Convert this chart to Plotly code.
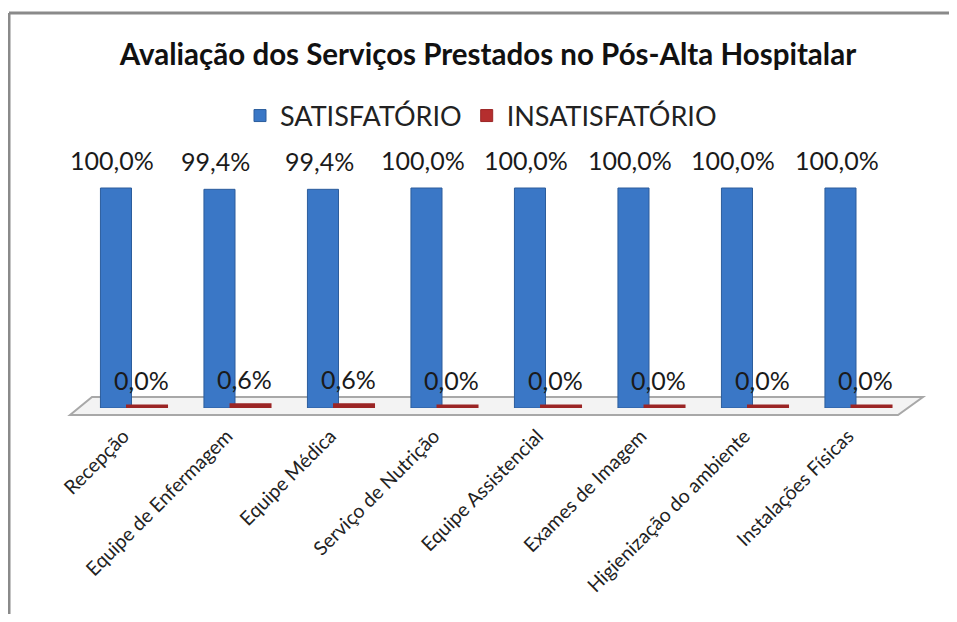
import plotly.graph_objects as go

categories = ["Recepção", "Equipe de Enfermagem", "Equipe Médica", "Serviço de Nutrição",
              "Equipe Assistencial", "Exames de Imagem", "Higienização do ambiente",
              "Instalações Físicas"]
satisfatorio = [100.0, 99.4, 99.4, 100.0, 100.0, 100.0, 100.0, 100.0]
insatisfatorio = [0.0, 0.6, 0.6, 0.0, 0.0, 0.0, 0.0, 0.0]
series_names = ["SATISFATÓRIO", "INSATISFATÓRIO"]

W, H = 949, 606
OFF = 8  # page body margin
FONT = "Lato"
BLUE = "#3a77c6"
RED = "#b52e2e"
PATCH = "#9b2525"

def px(x):
    return (x - OFF) / W

def py(y):
    return 1 - (y - OFF) / H

fig = go.Figure()
fig.add_trace(go.Bar(name=series_names[0], x=categories, y=satisfatorio,
                     marker=dict(color=BLUE, line=dict(color="#2c5d9c", width=1))))
fig.add_trace(go.Bar(name=series_names[1], x=categories, y=insatisfatorio,
                     marker=dict(color=RED, line=dict(color=PATCH, width=1))))
# flat "floor" patch of the second series, drawn on a shifted copy of the category axis
fig.add_trace(go.Scatter(x=categories, y=insatisfatorio, xaxis="x2", yaxis="y",
                         mode="markers", showlegend=False, hoverinfo="skip",
                         marker=dict(symbol="line-ew", size=30,
                                     line=dict(color=PATCH, width=7))))

def fmt(v):
    return f"{v:.1f}%".replace(".", ",")

SHIFT = 15.5
for vals, xs in ((satisfatorio, -SHIFT - 4), (insatisfatorio, SHIFT - 6)):
    for c, v in zip(categories, vals):
        fig.add_annotation(x=c, y=v, xref="x", yref="y", text=fmt(v), showarrow=False,
                           xshift=xs, yshift=28, yanchor="middle",
                           font=dict(family=FONT, size=25, color="#1a1a1a"))

# chart frame (left and top edges visible)
for x0, y0, x1, y1 in ((9, 13, 9, OFF + H), (9, 13, OFF + W, 13)):
    fig.add_shape(type="line", xref="paper", yref="paper", x0=px(x0), y0=py(y0),
                  x1=px(x1), y1=py(y1), line=dict(color="#8a8a8a", width=3), layer="below")
# 3D floor
pts = [(70, 415), (92, 397), (923, 397), (898, 415)]
path = "M " + " L ".join(f"{px(x):.5f},{py(y):.5f}" for x, y in pts) + " Z"
fig.add_shape(type="path", xref="paper", yref="paper", path=path,
              line=dict(color="#a8a8a8", width=2), fillcolor="#f3f3f3", layer="below")

x0p, x1p = 79.75, 907.75
y0p, y1p = 408, 177
fig.update_layout(
    width=W, height=H, margin=dict(l=0, r=0, t=0, b=0, autoexpand=False),
    paper_bgcolor="white", plot_bgcolor="rgba(0,0,0,0)",
    barmode="group", bargap=0.4, bargroupgap=0,
    title=dict(text="<b>Avaliação dos Serviços Prestados no Pós-Alta Hospitalar</b>",
               x=px(488), xanchor="center", y=py(55), yanchor="middle",
               font=dict(family=FONT, size=29.5, color="#111")),
    legend=dict(orientation="h", x=px(481), xanchor="center", y=py(116), yanchor="middle",
                font=dict(family=FONT, size=27, color="#222"), itemwidth=30,
                traceorder="normal"),
    xaxis=dict(domain=[px(x0p), px(x1p)], range=[-0.5, 7.5], type="category",
               tickangle=-45, ticks="", ticklabelstandoff=12, ticklabelshift=-8,
               showline=False, showgrid=False, automargin=False,
               tickfont=dict(family=FONT, size=19.5, color="#222")),
    xaxis2=dict(domain=[px(x0p), px(x1p)], range=[-0.65, 7.35], type="category",
                overlaying="x", visible=False, categoryorder="array",
                categoryarray=categories),
    yaxis=dict(domain=[py(y0p), py(y1p)], range=[0, 105], visible=False,
               automargin=False),
)

fig.write_html("out.html")
